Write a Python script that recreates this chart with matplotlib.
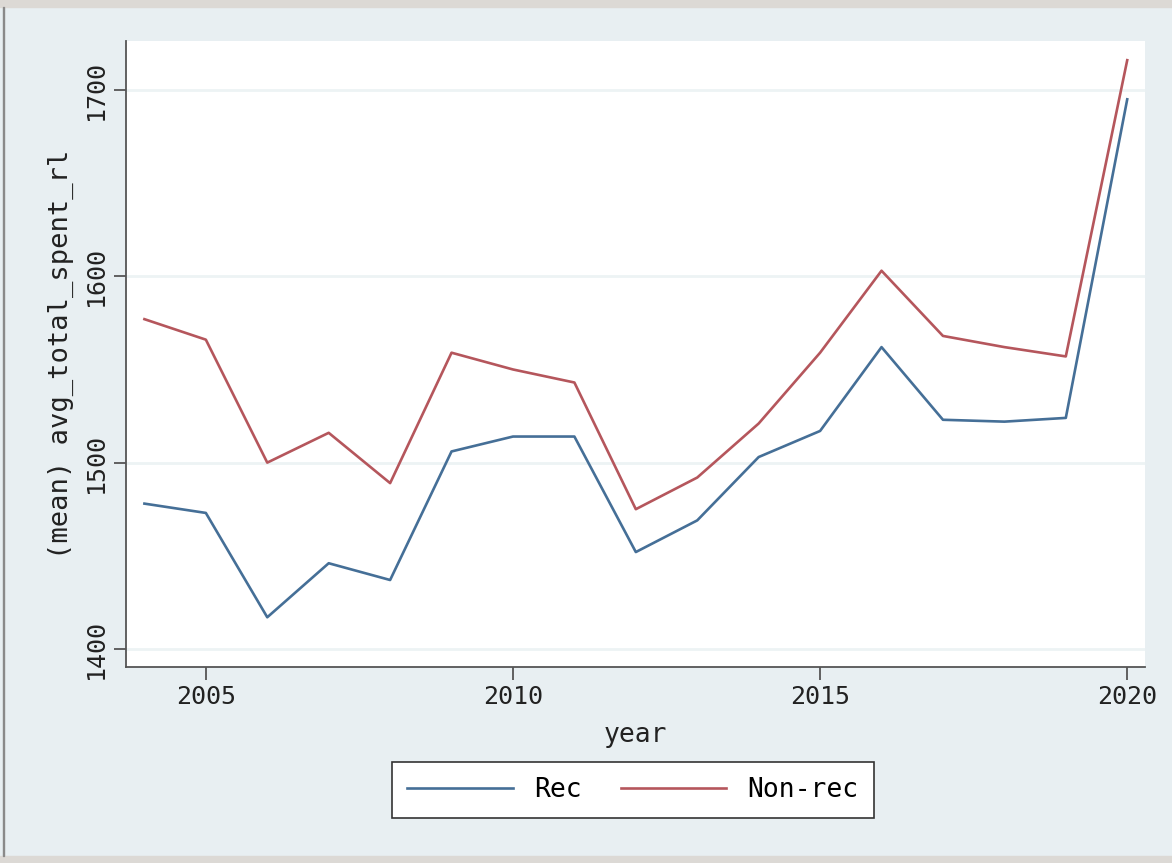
import matplotlib
matplotlib.use("Agg")
import matplotlib.pyplot as plt
from matplotlib.patches import Rectangle

years = [2004, 2005, 2006, 2007, 2008, 2009, 2010, 2011, 2012,
         2013, 2014, 2015, 2016, 2017, 2018, 2019, 2020]
rec = [1478, 1473, 1417, 1446, 1437, 1506, 1514, 1514, 1452,
       1469, 1503, 1517, 1562, 1523, 1522, 1524, 1695]
non_rec = [1577, 1566, 1500, 1516, 1489, 1559, 1550, 1543, 1475,
           1492, 1521, 1559, 1603, 1568, 1562, 1557, 1716]
labels = ["Rec", "Non-rec"]

bg = "#e8eff2"
plt.rcParams["font.family"] = "DejaVu Sans Mono"

fig = plt.figure(figsize=(11.72, 8.63), dpi=100, facecolor=bg)
# outer window frame
fig.patches.append(Rectangle((0, 0.992), 1, 0.008, transform=fig.transFigure,
                             color="#dcd9d5", zorder=0))
fig.patches.append(Rectangle((0, 0), 1, 0.008, transform=fig.transFigure,
                             color="#dcd9d5", zorder=0))
fig.patches.append(Rectangle((0.0022, 0.008), 0.0015, 0.984, transform=fig.transFigure,
                             color="#8a8a8a", zorder=0))

ax = fig.add_axes([0.1075, 0.2271, 0.8695, 0.7254])
ax.set_facecolor("white")

ax.plot(years, rec, color="#456f97", lw=1.9, label=labels[0])
ax.plot(years, non_rec, color="#b5565c", lw=1.9, label=labels[1])

ax.set_xlim(2003.70, 2020.29)
ax.set_ylim(1390.3, 1726.3)
ax.set_xticks([2005, 2010, 2015, 2020])
ax.set_yticks([1400, 1500, 1600, 1700])
ax.grid(axis="y", color="#edf3f4", lw=2)
ax.set_axisbelow(True)

for s in ["top", "right"]:
    ax.spines[s].set_visible(False)
for s in ["left", "bottom"]:
    ax.spines[s].set_color("#555555")
    ax.spines[s].set_linewidth(1.3)

ax.tick_params(direction="out", length=9, width=1.3, color="#555555",
               labelsize=18, labelcolor="#222222", pad=4)
plt.setp(ax.get_yticklabels(), rotation=90, va="center")

ax.set_xlabel("year", fontsize=19, color="#222222", labelpad=9)
ax.set_ylabel("(mean) avg_total_spent_rl", fontsize=19.5, color="#222222", labelpad=7)

leg = fig.legend(loc="center", bbox_to_anchor=(0.540, 0.0846), ncol=2,
                 fontsize=19, fancybox=False, framealpha=1, edgecolor="#333333",
                 handlelength=4.0, handletextpad=0.8, columnspacing=1.5,
                 borderpad=0.58)
leg.get_frame().set_linewidth(1.2)

fig.savefig("out.png", dpi=100, facecolor=bg)
